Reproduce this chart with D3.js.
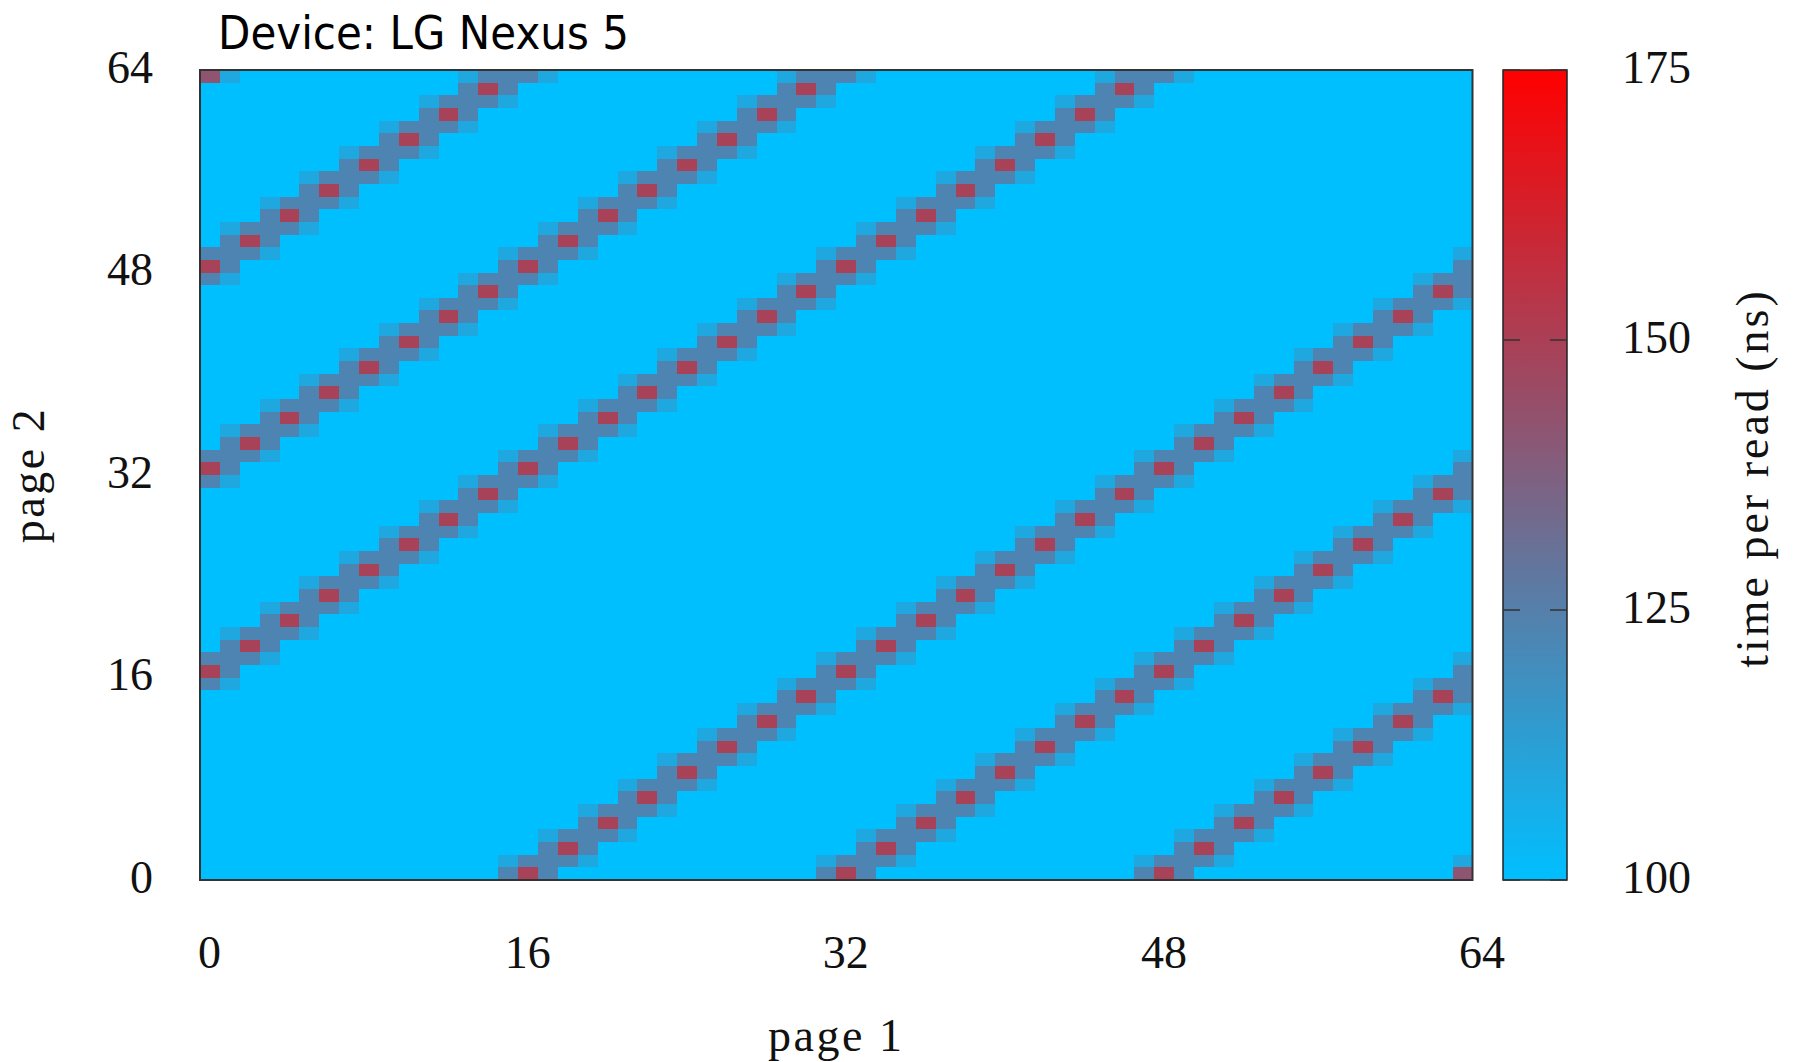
<!DOCTYPE html>
<html>
<head>
<meta charset="utf-8">
<script src="https://cdn.jsdelivr.net/npm/d3@7"></script>
<style>
  body { margin: 0; background: #fff; }
  svg { display: block; }
</style>
</head>
<body>
<svg id="chart"></svg>
<script>
// read times between page pairs, one string per row of page 2 (top row = 63)
// . = 100ns  l = ~109ns  m = ~123ns  r = ~149ns  p = ~142ns
let rows = [
  "pl...........lmm ml...........lmm ml...........lmm ml..............",
  ".............mrm .............mrm .............mrm ................",
  "...........lmmml ...........lmmml ...........lmmml ................",
  "...........mrm.. ...........mrm.. ...........mrm.. ................",
  ".........lmmml.. .........lmmml.. .........lmmml.. ................",
  ".........mrm.... .........mrm.... .........mrm.... ................",
  ".......lmmml.... .......lmmml.... .......lmmml.... ................",
  ".......mrm...... .......mrm...... .......mrm...... ................",
  ".....lmmml...... .....lmmml...... .....lmmml...... ................",
  ".....mrm........ .....mrm........ .....mrm........ ................",
  "...lmmml........ ...lmmml........ ...lmmml........ ................",
  "...mrm.......... ...mrm.......... ...mrm.......... ................",
  ".lmmml.......... .lmmml.......... .lmmml.......... ................",
  ".mrm............ .mrm............ .mrm............ ................",
  "mmml...........l mmml...........l mmml............ ...............l",
  "rm.............m rm.............m rm.............. ...............m",
  "ml...........lmm ml...........lmm ml.............. .............lmm",
  ".............mrm .............mrm ................ .............mrm",
  "...........lmmml ...........lmmml ................ ...........lmmml",
  "...........mrm.. ...........mrm.. ................ ...........mrm..",
  ".........lmmml.. .........lmmml.. ................ .........lmmml..",
  ".........mrm.... .........mrm.... ................ .........mrm....",
  ".......lmmml.... .......lmmml.... ................ .......lmmml....",
  ".......mrm...... .......mrm...... ................ .......mrm......",
  ".....lmmml...... .....lmmml...... ................ .....lmmml......",
  ".....mrm........ .....mrm........ ................ .....mrm........",
  "...lmmml........ ...lmmml........ ................ ...lmmml........",
  "...mrm.......... ...mrm.......... ................ ...mrm..........",
  ".lmmml.......... .lmmml.......... ................ .lmmml..........",
  ".mrm............ .mrm............ ................ .mrm............",
  "mmml...........l mmml............ ...............l mmml...........l",
  "rm.............m rm.............. ...............m rm.............m",
  "ml...........lmm ml.............. .............lmm ml...........lmm",
  ".............mrm ................ .............mrm .............mrm",
  "...........lmmml ................ ...........lmmml ...........lmmml",
  "...........mrm.. ................ ...........mrm.. ...........mrm..",
  ".........lmmml.. ................ .........lmmml.. .........lmmml..",
  ".........mrm.... ................ .........mrm.... .........mrm....",
  ".......lmmml.... ................ .......lmmml.... .......lmmml....",
  ".......mrm...... ................ .......mrm...... .......mrm......",
  ".....lmmml...... ................ .....lmmml...... .....lmmml......",
  ".....mrm........ ................ .....mrm........ .....mrm........",
  "...lmmml........ ................ ...lmmml........ ...lmmml........",
  "...mrm.......... ................ ...mrm.......... ...mrm..........",
  ".lmmml.......... ................ .lmmml.......... .lmmml..........",
  ".mrm............ ................ .mrm............ .mrm............",
  "mmml............ ...............l mmml...........l mmml...........l",
  "rm.............. ...............m rm.............m rm.............m",
  "ml.............. .............lmm ml...........lmm ml...........lmm",
  "................ .............mrm .............mrm .............mrm",
  "................ ...........lmmml ...........lmmml ...........lmmml",
  "................ ...........mrm.. ...........mrm.. ...........mrm..",
  "................ .........lmmml.. .........lmmml.. .........lmmml..",
  "................ .........mrm.... .........mrm.... .........mrm....",
  "................ .......lmmml.... .......lmmml.... .......lmmml....",
  "................ .......mrm...... .......mrm...... .......mrm......",
  "................ .....lmmml...... .....lmmml...... .....lmmml......",
  "................ .....mrm........ .....mrm........ .....mrm........",
  "................ ...lmmml........ ...lmmml........ ...lmmml........",
  "................ ...mrm.......... ...mrm.......... ...mrm..........",
  "................ .lmmml.......... .lmmml.......... .lmmml..........",
  "................ .mrm............ .mrm............ .mrm............",
  "...............l mmml...........l mmml...........l mmml...........l",
  "...............m rm.............m rm.............m rm.............p"
]
let codeValue = { ".": 100, "l": 109, "m": 123, "r": 149, "p": 142 }

let pageTicks = [0, 16, 32, 48, 64]
let cbTicks = [100, 125, 150, 175]
let cbDomain = [100, 175]
let cbColors = ["#00bfff", "#ff0000"]

let titleText = "Device: LG Nexus 5"
let xTitle = "page 1"
let yTitle = "page 2"
let cbTitle = "time per read (ns)"

let w = 1797
let h = 1062
let plot = { left: 200, right: 1472.5, top: 70, bottom: 880 }
let cbBox = { left: 1503, right: 1567 }
let serif = "'Liberation Serif', 'Times New Roman', serif"

let svg = d3.select("#chart").attr("width", w).attr("height", h)

let cells = []
rows.forEach((r, i) => {
  r.replace(/ /g, "").split("").forEach((c, x) => {
    cells.push({ x: x, y: 63 - i, v: codeValue[c] })
  })
})

let xScale = d3.scaleLinear().domain([0, 64]).range([plot.left, plot.right])
let yScale = d3.scaleLinear().domain([0, 64]).range([plot.bottom, plot.top])
let cbScale = d3.scaleLinear().domain(cbDomain).range([plot.bottom, plot.top])
let color = d3.scaleLinear().domain(cbDomain).range(cbColors).clamp(true)

// heatmap cells
svg.append("g")
   .attr("shape-rendering", "crispEdges")
   .selectAll("rect")
   .data(cells)
   .enter()
   .append("rect")
   .attr("x", (d) => xScale(d.x))
   .attr("y", (d) => yScale(d.y + 1))
   .attr("width", (d) => xScale(d.x + 1) - xScale(d.x))
   .attr("height", (d) => yScale(d.y) - yScale(d.y + 1))
   .attr("fill", (d) => color(d.v))

svg.append("rect")
   .attr("x", plot.left)
   .attr("y", plot.top)
   .attr("width", plot.right - plot.left)
   .attr("height", plot.bottom - plot.top)
   .attr("fill", "none")
   .attr("stroke", "#333")
   .attr("stroke-width", 2)

// axes
let xAxis = d3.axisBottom(xScale).tickValues(pageTicks).tickSize(0).tickPadding(55)
let yAxis = d3.axisLeft(yScale).tickValues(pageTicks).tickSize(0).tickPadding(47)

let gx = svg.append("g")
   .attr("transform", "translate(0," + plot.bottom + ")")
   .call(xAxis)
gx.select(".domain").remove()
gx.selectAll("text").attr("dx", 9)

let gy = svg.append("g")
   .attr("transform", "translate(" + plot.left + ",0)")
   .call(yAxis)
gy.select(".domain").remove()
gy.selectAll("text").attr("dy", "0.27em")

// colour bar
let defs = svg.append("defs")
let grad = defs.append("linearGradient")
   .attr("id", "cbgrad")
   .attr("x1", 0).attr("y1", 1).attr("x2", 0).attr("y2", 0)
grad.selectAll("stop")
   .data(d3.range(0, 1.01, 0.1))
   .enter()
   .append("stop")
   .attr("offset", (d) => d)
   .attr("stop-color", (d) => color(cbDomain[0] + d * (cbDomain[1] - cbDomain[0])))

svg.append("rect")
   .attr("x", cbBox.left)
   .attr("y", cbScale(cbDomain[1]))
   .attr("width", cbBox.right - cbBox.left)
   .attr("height", cbScale(cbDomain[0]) - cbScale(cbDomain[1]))
   .attr("fill", "url(#cbgrad)")
   .attr("stroke", "#222")
   .attr("stroke-width", 1.5)

let cbAxis = d3.axisRight(cbScale).tickValues(cbTicks).tickSize(0).tickPadding(55)
let gc = svg.append("g")
   .attr("transform", "translate(" + cbBox.right + ",0)")
   .call(cbAxis)
gc.select(".domain").remove()
gc.selectAll("text").attr("dy", "0.28em")

// small inner tick marks on both sides of the bar
let cbMarks = svg.append("g").attr("stroke", "#333").attr("stroke-width", 1.5)
cbTicks.forEach((t) => {
  cbMarks.append("line")
     .attr("x1", cbBox.left).attr("x2", cbBox.left + 17)
     .attr("y1", cbScale(t)).attr("y2", cbScale(t))
  cbMarks.append("line")
     .attr("x1", cbBox.right - 17).attr("x2", cbBox.right)
     .attr("y1", cbScale(t)).attr("y2", cbScale(t))
})

svg.selectAll(".tick text")
   .attr("font-family", serif)
   .attr("font-size", 46)
   .attr("fill", "#111")

// titles
svg.append("text")
   .attr("x", (plot.left + plot.right) / 2)
   .attr("y", 1051)
   .attr("text-anchor", "middle")
   .attr("font-family", serif)
   .attr("font-size", 46)
   .attr("letter-spacing", 2.5)
   .attr("fill", "#111")
   .text(xTitle)

svg.append("text")
   .attr("transform", "translate(44," + (plot.top + plot.bottom) / 2 + ") rotate(-90)")
   .attr("text-anchor", "middle")
   .attr("font-family", serif)
   .attr("font-size", 46)
   .attr("letter-spacing", 2.5)
   .attr("fill", "#111")
   .text(yTitle)

svg.append("text")
   .attr("transform", "translate(1768," + ((plot.top + plot.bottom) / 2 + 3) + ") rotate(-90)")
   .attr("text-anchor", "middle")
   .attr("font-family", serif)
   .attr("font-size", 46)
   .attr("letter-spacing", 3)
   .attr("fill", "#111")
   .text(cbTitle)

svg.append("text")
   .attr("x", 218)
   .attr("y", 49)
   .attr("font-family", "'DejaVu Sans', Verdana, sans-serif")
   .attr("font-size", 46)
   .attr("textLength", 411)
   .attr("lengthAdjust", "spacingAndGlyphs")
   .attr("fill", "#000")
   .text(titleText)
</script>
</body>
</html>
